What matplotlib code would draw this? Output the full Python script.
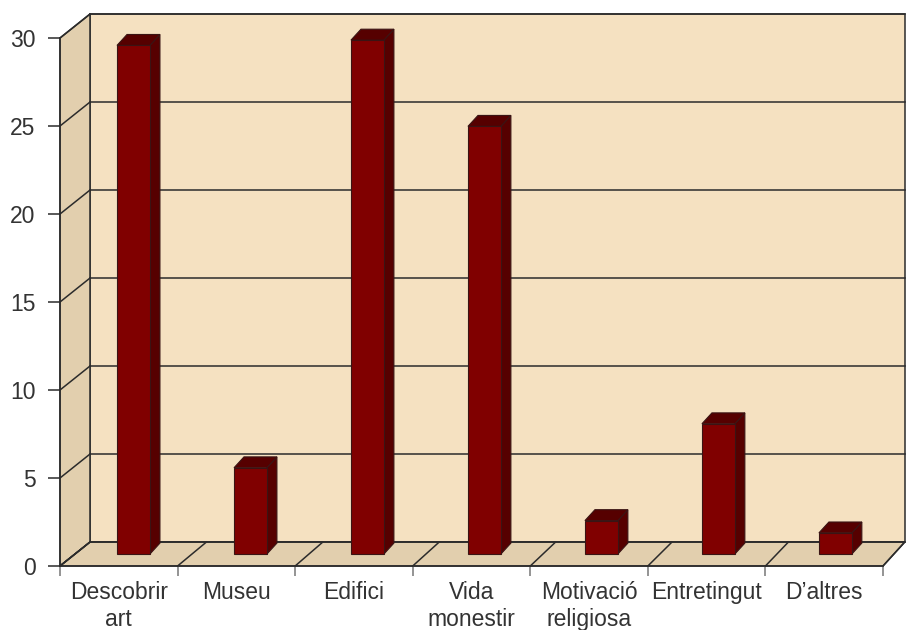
import matplotlib
matplotlib.use("Agg")
import matplotlib.pyplot as plt
from matplotlib.patches import Polygon
import numpy as np

categories = ["Descobrir\nart", "Museu", "Edifici", "Vida\nmonestir",
              "Motivació\nreligiosa", "Entretingut", "D’altres"]
values = [28.9, 4.9, 29.2, 24.3, 1.9, 7.4, 1.2]
y_ticks = [0, 5, 10, 15, 20, 25, 30]

# pseudo-3D geometry, in data units
DX, DY = 0.255, 1.36        # full floor depth
SHRINK = 0.01               # slight perspective towards the back wall
BAR_T = 0.5                 # depth of the bar front faces
BAR_W = 0.28
BAR_DX, BAR_DY = 0.085, 0.62

WALL = "#f5e1c1"
SIDE = "#e2cfae"
LINE = "#2b2b2b"
FRONT = "#800000"
DARK = "#560000"


def proj(x, v, t):
    return x * (1 - SHRINK * t) + DX * t, v + DY * t


n = len(categories)
ymax = y_ticks[-1]

plt.rcParams["font.family"] = ["Liberation Sans", "DejaVu Sans"]
fig = plt.figure(figsize=(9.06, 6.3), dpi=100)
ax = fig.add_axes([60 / 906, 64 / 630, 823 / 906, 528 / 630])
ax.set_xlim(0, n)
ax.set_ylim(0, ymax)
ax.patch.set_visible(False)

# walls and floor
back = [proj(0, 0, 1), proj(n, 0, 1), proj(n, ymax, 1), proj(0, ymax, 1)]
side = [(0, 0), proj(0, 0, 1), proj(0, ymax, 1), (0, ymax)]
floor = [(0, 0), (n, 0), proj(n, 0, 1), proj(0, 0, 1)]
for pts, col in [(back, WALL), (side, SIDE), (floor, SIDE)]:
    ax.add_patch(Polygon(pts, closed=True, facecolor=col, edgecolor=LINE,
                         lw=1.1, clip_on=False, zorder=1))

# gridlines on the back wall and the side wall
for v in y_ticks:
    xa, ya = proj(0, v, 1)
    xb, yb = proj(n, v, 1)
    ax.plot([xa, xb], [ya, yb], color=LINE, lw=1.1, clip_on=False, zorder=2)
    ax.plot([0, xa], [v, ya], color=LINE, lw=1.1, clip_on=False, zorder=2)

# category dividers across the floor
for k in range(n + 1):
    xa, ya = proj(k, 0, 1)
    ax.plot([k, xa], [0, ya], color=LINE, lw=1.1, clip_on=False, zorder=2)

# columns
for k, val in enumerate(values):
    cx, base = proj(k + 0.5, 0, BAR_T)
    x0, x1 = cx - BAR_W / 2, cx + BAR_W / 2
    top = base + val
    front = [(x0, base), (x1, base), (x1, top), (x0, top)]
    right = [(x1, base), (x1 + BAR_DX, base + BAR_DY),
             (x1 + BAR_DX, top + BAR_DY), (x1, top)]
    lid = [(x0, top), (x1, top), (x1 + BAR_DX, top + BAR_DY),
           (x0 + BAR_DX, top + BAR_DY)]
    for pts, col in [(right, DARK), (lid, DARK), (front, FRONT)]:
        ax.add_patch(Polygon(pts, closed=True, facecolor=col,
                             edgecolor="#3a1414", lw=0.8, clip_on=False,
                             zorder=3))

# front axes
for s in ["top", "right"]:
    ax.spines[s].set_visible(False)
for s in ["left", "bottom"]:
    ax.spines[s].set_color(LINE)
    ax.spines[s].set_linewidth(1.1)
    ax.spines[s].set_zorder(4)

ax.set_yticks(y_ticks)
ax.set_yticklabels([str(v) for v in y_ticks])
ax.tick_params(axis="y", length=8.6, width=1.1, color=LINE, pad=9,
               labelsize=16.5, labelcolor="#333333")

ax.set_xticks(np.arange(n + 1))
ax.set_xticklabels([])
ax.set_xticks(np.arange(n) + 0.5, minor=True)
ax.set_xticklabels(categories, minor=True)
ax.tick_params(axis="x", which="major", length=7.2, width=1.1, color="#777777")
ax.tick_params(axis="x", which="minor", length=0, pad=11,
               labelsize=16.5, labelcolor="#333333")

fig.savefig("out.png", dpi=100)
